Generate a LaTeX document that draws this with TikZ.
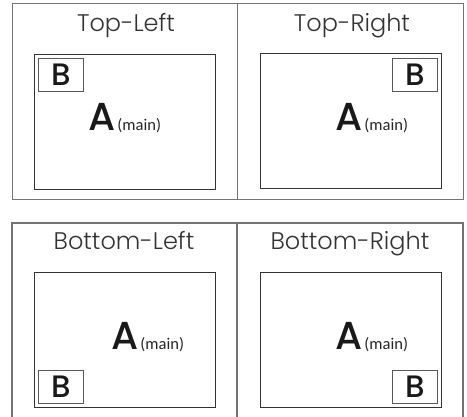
\documentclass[tikz,border=0pt]{standalone}
\usepackage{fontspec}
\setmainfont{Poppins}[UprightFont=* Light]
\newfontfamily\letterfont{Poppins}[UprightFont=* Medium]
\newfontfamily\smallfont{Carlito}
\begin{document}
\begin{tikzpicture}[x=1pt,y=-1pt,
  outerline/.style={draw=black!55,line width=1.1pt},
  cell/.style={draw=black!55,line width=1.1pt,anchor=north west,inner sep=0pt},
  screen/.style={draw=black!80,line width=0.9pt,anchor=north west,inner sep=0pt},
  pip/.style={draw=black!65,line width=0.9pt,anchor=north west,inner sep=0pt,minimum width=45pt,minimum height=33pt},
  pipletter/.style={font=\letterfont\fontsize{31}{31}\selectfont,text=black!90,inner sep=0pt},
  title/.style={font=\fontsize{24}{24}\selectfont,text=black!80,anchor=base,inner sep=0pt},
  bigA/.style={font=\letterfont\fontsize{39}{39}\selectfont,text=black!90,anchor=base,inner sep=0pt},
  mainlbl/.style={font=\smallfont\fontsize{16.5}{16.5}\selectfont,text=black!85,anchor=base west,inner sep=0pt}
]
\useasboundingbox (0,0) rectangle (467,417);
% top cells
\node[cell,minimum width=225pt,minimum height=196pt] (tlc) at (12,3) {};
\node[cell,minimum width=226pt,minimum height=196pt] (trc) at (237,3) {};
% bottom open box
\coordinate (bl0) at (12,417);
\coordinate (bl1) at (12,223);
\coordinate (br1) at (463,223);
\coordinate (br0) at (463,417);
\coordinate (bm1) at (237,223);
\coordinate (bm0) at (237,417);
\draw[outerline] (bl0) -- (bl1) -- (br1) -- (br0);
\draw[outerline] (bm1) -- (bm0);
% titles
\node[title] (t1) at (126,32) {Top-Left};
\node[title] (t2) at (352,32) {Top-Right};
\node[title] (t3) at (124,250) {Bottom-Left};
\node[title] (t4) at (350,250) {Bottom-Right};
% screens
\node[screen,minimum width=181pt,minimum height=135pt] (s1) at (34,54) {};
\node[screen,minimum width=181pt,minimum height=135pt] (s2) at (260,53) {};
\node[screen,minimum width=181pt,minimum height=135pt] (s3) at (34,272) {};
\node[screen,minimum width=181pt,minimum height=135pt] (s4) at (260,272) {};
% pip boxes
\node[pip] (p1) at (38,58) {};
\node[pip] (p2) at (392,58) {};
\node[pip] (p3) at (38,370) {};
\node[pip] (p4) at (392,370) {};
\node[pipletter] (b1) at (p1.center) {B};
\node[pipletter] (b2) at (p2.center) {B};
\node[pipletter] (b3) at (p3.center) {B};
\node[pipletter] (b4) at (p4.center) {B};
% A labels
\node[bigA] (a1) at (102,131) {A};
\node[mainlbl] (m1) at ([xshift=1.5pt]a1.base east) {(main)};
\node[bigA] (a2) at (349,131) {A};
\node[mainlbl] (m2) at ([xshift=1.5pt]a2.base east) {(main)};
\node[bigA] (a3) at (125,350) {A};
\node[mainlbl] (m3) at ([xshift=1.5pt]a3.base east) {(main)};
\node[bigA] (a4) at (349,350) {A};
\node[mainlbl] (m4) at ([xshift=1.5pt]a4.base east) {(main)};
\end{tikzpicture}
\end{document}
